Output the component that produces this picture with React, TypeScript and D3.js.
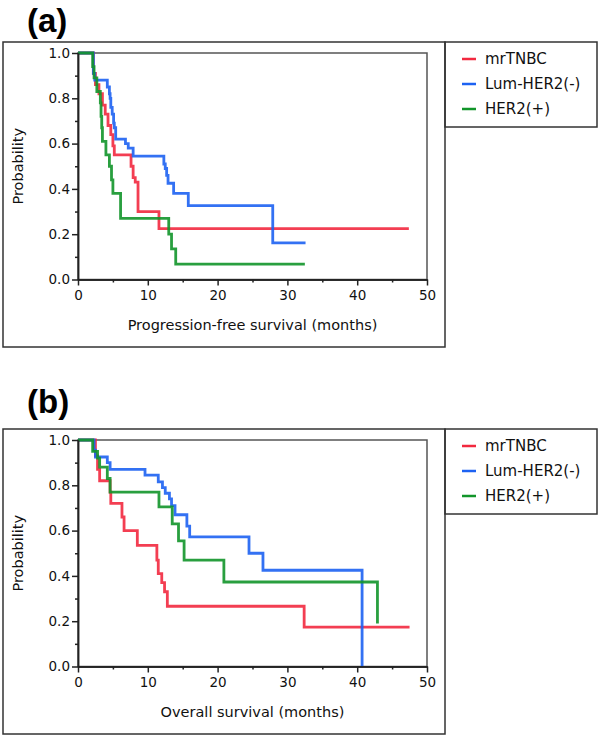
import React, { useEffect, useRef } from "react";
import * as d3 from "d3";

const groups = ["mrTNBC", "Lum-HER2(-)", "HER2(+)"];
const colors = ["#f2293f", "#1d62f2", "#12952a"];

// (a) progression-free survival: time of each step (months) and probability after it
const pfsTnbcTime = [0, 2.2, 2.5, 3.0, 3.5, 3.9, 4.3, 4.7, 5.0, 5.2, 7.6, 7.9, 8.2, 8.6, 11.6];
const pfsTnbcProb = [1, 0.91, 0.86, 0.82, 0.77, 0.73, 0.68, 0.64, 0.59, 0.55, 0.5, 0.45, 0.43, 0.3, 0.225];
const pfsTnbcEnd = 47.4;

const pfsLumTime = [0, 2.2, 2.4, 4.2, 4.5, 4.6, 4.7, 4.9, 5.1, 5.2, 5.4, 6.8, 7.2, 7.9, 12.3, 12.5, 12.7, 12.9, 13.7, 15.8, 27.9];
const pfsLumProb = [1, 0.91, 0.88, 0.85, 0.82, 0.8, 0.76, 0.73, 0.69, 0.67, 0.62, 0.6, 0.58, 0.545, 0.51, 0.49, 0.46, 0.425, 0.38, 0.326, 0.162];
const pfsLumEnd = 32.6;

const pfsHer2Time = [0, 2.1, 2.3, 2.7, 3.2, 3.3, 3.4, 3.5, 4.0, 4.5, 4.8, 5.0, 6.1, 13.0, 13.4, 14.0];
const pfsHer2Prob = [1, 0.94, 0.89, 0.83, 0.78, 0.72, 0.67, 0.61, 0.55, 0.5, 0.44, 0.38, 0.27, 0.2, 0.135, 0.068];
const pfsHer2End = 32.5;

// (b) overall survival
const osTnbcTime = [0, 2.5, 2.8, 3.1, 4.6, 4.7, 6.3, 6.6, 8.5, 11.3, 11.5, 12.0, 12.4, 12.8, 32.4];
const osTnbcProb = [1, 0.93, 0.87, 0.82, 0.77, 0.72, 0.66, 0.6, 0.535, 0.47, 0.41, 0.37, 0.33, 0.266, 0.174];
const osTnbcEnd = 47.5;

const osLumTime = [0, 2.3, 2.5, 4.2, 4.6, 9.6, 11.5, 12.1, 12.5, 13.1, 13.4, 13.9, 15.6, 16.0, 24.5, 26.5, 40.7];
const osLumProb = [1, 0.955, 0.925, 0.9, 0.87, 0.845, 0.815, 0.79, 0.765, 0.74, 0.71, 0.67, 0.62, 0.572, 0.5, 0.425, 0];
const osLumEnd = 40.7;

const osHer2Time = [0, 2.1, 2.8, 3.1, 4.2, 4.6, 11.6, 13.5, 14.4, 15.2, 20.9, 42.9];
const osHer2Prob = [1, 0.95, 0.92, 0.88, 0.83, 0.77, 0.705, 0.63, 0.555, 0.47, 0.373, 0.19];
const osHer2End = 42.9;

const yTicks = [0, 0.2, 0.4, 0.6, 0.8, 1.0];
const yMinor = [0.1, 0.3, 0.5, 0.7, 0.9];
const xTicks = [0, 10, 20, 30, 40, 50];
const xMinor = [5, 15, 25, 35, 45];

const panels = [
  {
    label: "(a)",
    xTitle: "Progression-free survival (months)",
    series: [
      { time: pfsTnbcTime, prob: pfsTnbcProb, end: pfsTnbcEnd },
      { time: pfsLumTime, prob: pfsLumProb, end: pfsLumEnd },
      { time: pfsHer2Time, prob: pfsHer2Prob, end: pfsHer2End },
    ],
  },
  {
    label: "(b)",
    xTitle: "Overall survival (months)",
    series: [
      { time: osTnbcTime, prob: osTnbcProb, end: osTnbcEnd },
      { time: osLumTime, prob: osLumProb, end: osLumEnd },
      { time: osHer2Time, prob: osHer2Prob, end: osHer2End },
    ],
  },
];

const font = "'DejaVu Sans', Verdana, sans-serif";

const App = () => {
  const svgRef = useRef(null);
  const width = 600;
  const height = 737;

  useEffect(() => {
    const svg = d3.select(svgRef.current);
    svg.selectAll("*").remove();

    const tops = [42, 429];
    const labelBase = [32, 413];

    panels.forEach((p, pi) => {
      const top = tops[pi];
      const g = svg.append("g");

      // panel letter
      g.append("text")
        .attr("x", 27)
        .attr("y", labelBase[pi])
        .attr("font-family", "'Liberation Sans', Arial, sans-serif")
        .attr("font-weight", "bold")
        .attr("font-size", 33)
        .text(p.label);

      // outer boxes
      g.append("rect")
        .attr("x", 3).attr("y", top)
        .attr("width", 442).attr("height", 305)
        .attr("fill", "none").attr("stroke", "#333").attr("stroke-width", 1.5);
      g.append("rect")
        .attr("x", 445).attr("y", top)
        .attr("width", 152).attr("height", 85)
        .attr("fill", "none").attr("stroke", "#333").attr("stroke-width", 1.5);

      const x = d3.scaleLinear().domain([0, 50]).range([78, 427]);
      const y = d3.scaleLinear().domain([0, 1]).range([top + 237.5, top + 11]);

      // plot frame
      g.append("rect")
        .attr("x", x(0)).attr("y", y(1))
        .attr("width", x(50) - x(0)).attr("height", y(0) - y(1))
        .attr("fill", "none").attr("stroke", "#555").attr("stroke-width", 1.5);

      const lineGen = d3
        .line()
        .x((d) => x(d[0]))
        .y((d) => y(d[1]))
        .curve(d3.curveStepAfter);

      p.series.forEach((s, si) => {
        const pts = s.time.map((t, i) => [t, s.prob[i]]);
        if (s.end > s.time[s.time.length - 1]) pts.push([s.end, s.prob[s.prob.length - 1]]);
        g.append("path")
          .attr("d", lineGen(pts))
          .attr("fill", "none")
          .attr("stroke", colors[si])
          .attr("stroke-width", 2.8)
          .attr("stroke-opacity", 0.9);
      });

      // axes
      const yAxis = d3.axisLeft(y).tickValues(yTicks).tickFormat(d3.format(".1f"))
        .tickSize(6).tickSizeOuter(0).tickPadding(2);
      const yAxisMinor = d3.axisLeft(y).tickValues(yMinor).tickFormat(() => "")
        .tickSize(3).tickSizeOuter(0);
      const xAxis = d3.axisBottom(x).tickValues(xTicks).tickFormat(d3.format("d"))
        .tickSize(6).tickSizeOuter(0).tickPadding(5);
      const xAxisMinor = d3.axisBottom(x).tickValues(xMinor).tickFormat(() => "")
        .tickSize(3).tickSizeOuter(0);

      [yAxis, yAxisMinor].forEach((ax) => {
        g.append("g").attr("transform", `translate(${x(0)},0)`).call(ax);
      });
      [xAxis, xAxisMinor].forEach((ax) => {
        g.append("g").attr("transform", `translate(0,${y(0)})`).call(ax);
      });
      g.selectAll(".domain, .tick line").attr("stroke", "#222").attr("stroke-width", 1.5);
      g.selectAll(".tick text")
        .attr("font-family", font)
        .attr("font-size", 13.5)
        .attr("fill", "#111");

      // axis titles
      g.append("text")
        .attr("x", (x(0) + x(50)) / 2)
        .attr("y", y(0) + 50)
        .attr("text-anchor", "middle")
        .attr("font-family", font)
        .attr("font-size", 14.5)
        .attr("fill", "#111")
        .text(p.xTitle);
      g.append("text")
        .attr("transform", `translate(23,${(y(0) + y(1)) / 2}) rotate(-90)`)
        .attr("text-anchor", "middle")
        .attr("font-family", font)
        .attr("font-size", 14.5)
        .attr("fill", "#111")
        .text("Probability");

      // legend
      groups.forEach((name, i) => {
        const ly = top + 17 + i * 25;
        g.append("line")
          .attr("x1", 462).attr("x2", 476)
          .attr("y1", ly).attr("y2", ly)
          .attr("stroke", colors[i]).attr("stroke-width", 2.5);
        g.append("text")
          .attr("x", 485).attr("y", ly + 5)
          .attr("font-family", font)
          .attr("font-size", 15)
          .attr("fill", "#111")
          .text(name);
      });
    });
  }, []);

  return (
    <svg
      ref={svgRef}
      width={width}
      height={height}
      style={{ position: "absolute", left: 0, top: 0, background: "#fff" }}
    ></svg>
  );
};

export default App;
